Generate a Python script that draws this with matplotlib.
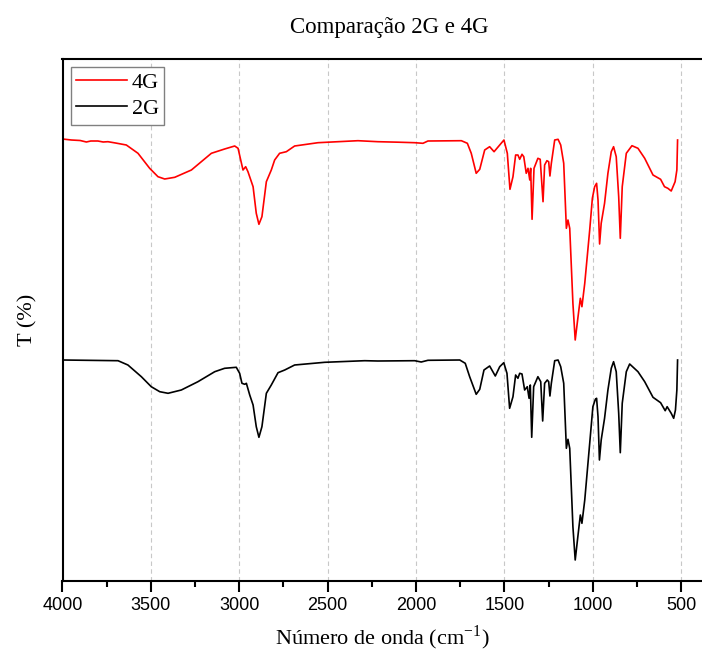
import matplotlib
matplotlib.use('Agg')
import matplotlib.pyplot as plt
import numpy as np

plt.rcParams['mathtext.fontset'] = 'stix'

# wavenumbers (cm-1) and transmittance (offset, arbitrary units)
wn_4g = [4000, 3950, 3900, 3865, 3840, 3800, 3770, 3743, 3700, 3639, 3573, 3507, 3460, 3422, 3365,
         3271, 3158, 3083, 3026, 3007, 2992, 2979, 2964, 2951, 2922, 2904, 2889, 2872,
         2847, 2819, 2800, 2772, 2734, 2706, 2687, 2555, 2329, 2216, 2100, 2008, 1961,
         1933, 1744, 1710, 1688, 1660, 1640, 1612, 1584, 1559, 1527, 1503, 1484, 1469,
         1452, 1437, 1424, 1414, 1401, 1391, 1377, 1367, 1357, 1352, 1344, 1333, 1311,
         1298, 1282, 1273, 1260, 1250, 1243, 1235, 1216, 1197, 1182, 1165, 1150, 1141,
         1131, 1113, 1100, 1084, 1071, 1062, 1046, 1018, 1003, 990, 979, 971, 962, 953,
         934, 915, 896, 883, 868, 854, 845, 834, 811, 779, 745, 707, 660, 617, 595, 576,
         557, 535, 525, 521]
t_4g = [461, 460, 459.5, 458.0, 459, 459, 458.0, 458.3, 457, 455, 446.7, 431.7, 423.3, 421, 422.7,
        430, 446.7, 451, 454, 451.7, 440, 430, 433.3, 428.3, 413.3, 386.7, 375.7, 383.3,
        418.3, 430, 440, 446.7, 448.3, 451.7, 454, 457.3, 459.3, 458.3, 457.8, 457.3, 456.7,
        459, 459.3, 456.7, 446.7, 426.7, 430.7, 450, 453.3, 448.3, 455, 460, 446.7, 410.7,
        423.3, 445, 445, 440.7, 445.7, 443.3, 426.7, 431.7, 420, 431.7, 380.7, 431.7, 441.7,
        440.7, 398.3, 435, 439.3, 438.3, 424, 436.7, 460, 460.7, 455, 436.7, 371.7, 380,
        371.7, 296.7, 260, 283.3, 301.7, 293.3, 316.7, 370, 401.7, 413.3, 416.7, 400, 356, 376.7,
        396.7, 426.7, 448.3, 453.3, 443.3, 403.3, 361.7, 413.3, 446.7, 454.3, 451.7, 441.7, 425, 420.7, 413.3, 411.7,
        409, 418.3, 430, 460]

wn_2g = [4000, 3686, 3630, 3554, 3498, 3450, 3403, 3328, 3234, 3139, 3083, 3017, 2998, 2985,
         2969, 2960, 2941, 2922, 2904, 2889, 2872, 2847, 2819, 2781, 2743, 2687, 2517, 2291,
         2216, 2008, 1971, 1933, 1753, 1722, 1697, 1660, 1640, 1616, 1584, 1552, 1527, 1504,
         1486, 1471, 1452, 1437, 1424, 1414, 1401, 1386, 1371, 1361, 1354, 1346, 1335, 1311,
         1295, 1284, 1273, 1258, 1250, 1243, 1235, 1216, 1197, 1182, 1165, 1150, 1141, 1131,
         1113, 1100, 1084, 1071, 1062, 1046, 1018, 1000, 986, 979, 971, 963, 953, 934, 915,
         896, 883, 868, 854, 845, 834, 811, 792, 745, 707, 660, 617, 591, 580, 557, 543, 533,
         525, 521]
t_2g = [240, 239.3, 235, 223.3, 213.3, 208.3, 206.7, 210, 218.3, 228.3, 231.7, 232.7, 226.7, 216.7,
        215.7, 216.7, 205, 195, 173.3, 162.7, 173.3, 206.7, 215, 227.3, 230, 235, 237.7, 239.3,
        239, 239.3, 238, 239.7, 240, 236.7, 223.3, 205.7, 210.7, 230, 234, 224, 233.3, 237.3,
        226.7, 191.7, 203.3, 225, 221.7, 226.7, 226, 210, 213.3, 201.7, 215, 162.7, 213.3, 223.3,
        218.3, 179, 216.7, 220, 218.3, 204, 216.7, 239.3, 240, 233.3, 216.7, 151.7, 160.7, 151.7,
        73.3, 40, 65, 85, 76.7, 100, 156.7, 193.3, 200.7, 201.7, 183.3, 140, 160, 181.7, 210,
        231.7, 238.3, 228.3, 186.7, 147.3, 196.7, 228.3, 236, 228.3, 218.3, 202.7, 197.3, 189.3, 193.3, 186.7, 181.7, 190,
        210, 240]

xticks = [4000, 3500, 3000, 2500, 2000, 1500, 1000, 500]

fig = plt.figure(figsize=(7.02, 6.58), dpi=100)
ax = fig.add_axes([62.5 / 702, 1 - 580.7 / 658, (702.5 - 62.5) / 702, (580.7 - 59) / 658])

ax.plot(wn_4g, t_4g, color='#ff0000', lw=1.2, label='4G')
ax.plot(wn_2g, t_2g, color='black', lw=1.2, label='2G')

ax.set_xlim(4000, 380)
ax.set_ylim(19.3, 541)
ax.set_xticks(xticks)
ax.set_xticks(np.arange(3750, 400, -500), minor=True)
ax.set_yticks([])
ax.grid(axis='x', which='major', color='#c8c8c8', ls=(0, (4, 3)), lw=0.8)
for lab in ax.get_xticklabels():
    lab.set_fontfamily('Liberation Sans')
ax.tick_params(axis='x', which='major', direction='out', length=8, width=1.5, labelsize=13, pad=4)
ax.tick_params(axis='x', which='minor', direction='out', length=4, width=1.5)
for s in ['left', 'bottom', 'top']:
    ax.spines[s].set_linewidth(1.5)
ax.spines['right'].set_visible(False)

serif = 'Liberation Serif'
ax.set_xlabel(r'Número de onda (cm$^{\mathregular{-1}}$)', fontfamily=serif, fontsize=16, labelpad=7)
ax.set_ylabel('T (%)', fontfamily=serif, fontsize=16, labelpad=18)
fig.text(0.555, 1 - 28 / 658, 'Comparação 2G e 4G', fontfamily=serif, fontsize=16.5, ha='center', va='center')

leg = ax.legend(loc='upper left', bbox_to_anchor=(8 / 640, 1 - 8 / 521.7), prop={'family': serif, 'size': 16},
                fancybox=False, edgecolor='#808080', framealpha=1, handlelength=2.3, handletextpad=0.2,
                borderpad=0.25, labelspacing=0.25, borderaxespad=0)
leg.get_frame().set_linewidth(1.0)

fig.savefig('out.png', dpi=100)
